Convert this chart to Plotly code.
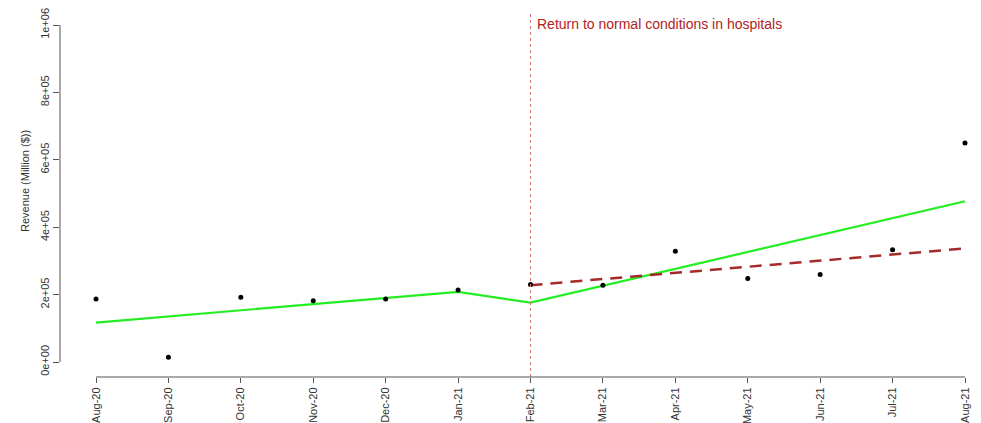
import plotly.graph_objects as go

# Monthly hospital revenue and segmented-regression fits
months = ["Aug-20", "Sep-20", "Oct-20", "Nov-20", "Dec-20", "Jan-21", "Feb-21",
          "Mar-21", "Apr-21", "May-21", "Jun-21", "Jul-21", "Aug-21"]
revenue = [187000, 14000, 192000, 182000, 187000, 214000, 230000,
           228000, 329000, 248000, 260000, 333000, 650000]
fitted = [117000, 135000, 153000, 172000, 190000, 208000, 176000,
          226000, 276000, 326000, 376000, 427000, 477000]
counterfactual_months = months[6:]
counterfactual = [228000, 246000, 264000, 283000, 301000, 319000, 337000]

y_ticks = [0, 200000, 400000, 600000, 800000, 1000000]
y_tick_labels = ["0e+00", "2e+05", "4e+05", "6e+05", "8e+05", "1e+06"]
intervention = "Feb-21"

idx = {m: i for i, m in enumerate(months)}
x_all = [idx[m] for m in months]
x_cf = [idx[m] for m in counterfactual_months]

W, H = 981, 423
left_px, right_px = 60, 976
top_px, bottom_px = 10, 377


def paper_y(py):
    return (bottom_px - py) / (bottom_px - top_px)


def paper_x(px):
    return (px - left_px) / (right_px - left_px)


fig = go.Figure()
fig.add_trace(go.Scatter(x=x_all, y=fitted, mode="lines",
                         line=dict(color="#22ee22", width=2.2)))
fig.add_trace(go.Scatter(x=x_cf, y=counterfactual, mode="lines",
                         line=dict(color="#a52a2a", width=2.5, dash="12px,8px")))
fig.add_trace(go.Scatter(x=x_all, y=revenue, mode="markers",
                         marker=dict(color="black", size=5)))

# intervention marker and label
xi = idx[intervention]
fig.add_shape(type="line", xref="x", yref="paper", x0=xi, x1=xi, y0=0, y1=paper_y(12),
              line=dict(color="#dc7474", width=1, dash="dot"))
fig.add_annotation(x=xi, xref="x", y=paper_y(24), yref="paper", yanchor="middle",
                   xanchor="left", xshift=4, text="Return to normal conditions in hospitals",
                   showarrow=False, font=dict(color="#b22222", size=14))

# y-axis title
fig.add_annotation(text="Revenue (Million ($))", xref="paper", yref="paper",
                   x=paper_x(17), y=paper_y(181), textangle=-90, showarrow=False,
                   font=dict(size=11, color="#333333"))

# axis lines spanning only the tick range
fig.add_shape(type="line", xref="x", yref="paper", x0=0, x1=len(months) - 1,
              y0=0, y1=0, line=dict(color="#555555", width=1))
fig.add_shape(type="line", xref="paper", yref="y", x0=0, x1=0,
              y0=y_ticks[0], y1=y_ticks[-1], line=dict(color="#555555", width=1))

px_per_unit = 869 / 12
x0_range = -(96 - left_px) / px_per_unit
x1_range = 12 + (right_px - 965) / px_per_unit

ppy = 337 / 1e6
y0_range = -(bottom_px - 362) / ppy
y1_range = 1e6 + (25 - top_px) / ppy

fig.update_layout(
    width=W, height=H,
    margin=dict(l=left_px, r=W - right_px, t=top_px, b=H - bottom_px, autoexpand=False),
    plot_bgcolor="white", paper_bgcolor="white",
    showlegend=False,
    font=dict(family="Liberation Sans, Arial, sans-serif", color="#333333"),
)
fig.update_xaxes(range=[x0_range, x1_range], tickvals=x_all, ticktext=months,
                 tickangle=-90, ticks="outside", ticklen=5, tickcolor="#555555",
                 showgrid=False, zeroline=False, showline=False,
                 tickfont=dict(size=11, color="#333333"), automargin=False)
fig.update_yaxes(range=[y0_range, y1_range], tickvals=y_ticks, ticktext=y_tick_labels,
                 tickangle=-90, ticks="outside", ticklen=6, tickcolor="#555555",
                 showgrid=False, zeroline=False, showline=False,
                 tickfont=dict(size=11, color="#333333"), automargin=False)

fig.write_html("out.html")
